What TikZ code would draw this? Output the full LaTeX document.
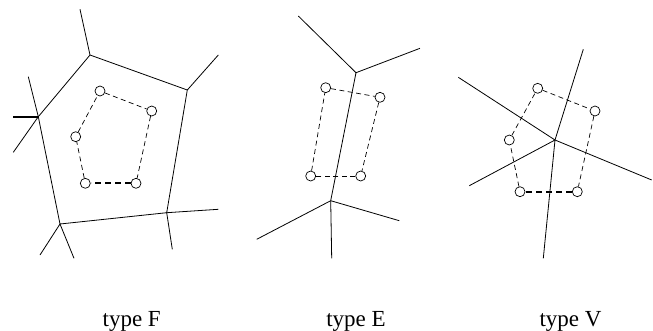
\documentclass[tikz,border=0pt]{standalone}
\usepackage{fontspec}
\setmainfont{Liberation Serif}
\begin{document}
\begin{tikzpicture}[x=1pt,y=-1pt,
  edge/.style={line width=0.8pt},
  thickedge/.style={line width=1.8pt},
  dual/.style={line width=0.7pt,dash pattern=on 5pt off 3.5pt},
  dualthick/.style={line width=1.9pt,dash pattern=on 6pt off 4pt},
  site/.style={circle,draw,line width=0.7pt,fill=white,inner sep=0pt,minimum size=10pt},
  lab/.style={font=\fontsize{23}{26}\selectfont,inner sep=0pt,anchor=base}]
\useasboundingbox (0,0) rectangle (653,330);
% ---------- type F ----------
\coordinate (f1) at (90,55);
\coordinate (f2) at (187.3,90);
\coordinate (f3) at (166.7,212.7);
\coordinate (f4) at (60,224);
\coordinate (f5) at (38.3,116.7);
\coordinate (f1o) at (80,9.3);
\coordinate (f2o) at (218.3,55);
\coordinate (f3a) at (218.3,209.3);
\coordinate (f3b) at (172.3,249.3);
\coordinate (f4a) at (40,255);
\coordinate (f4b) at (74,258.3);
\coordinate (f5a) at (28.3,76.7);
\coordinate (f5b) at (13.3,152.3);
\coordinate (f5c) at (13.3,116.7);
\draw[edge] (f1) -- (f2) -- (f3) -- (f4) -- (f5) -- (f1);
\draw[edge] (f1) -- (f1o);
\draw[edge] (f2) -- (f2o);
\draw[edge] (f3) -- (f3a);
\draw[edge] (f3) -- (f3b);
\draw[edge] (f4) -- (f4a);
\draw[edge] (f4) -- (f4b);
\draw[edge] (f5) -- (f5a);
\draw[edge] (f5) -- (f5b);
\draw[thickedge] (f5) -- (f5c);
\node[site] (a1) at (100,91) {};
\node[site] (a2) at (151.7,111) {};
\node[site] (a3) at (136,183.3) {};
\node[site] (a4) at (85.3,183.3) {};
\node[site] (a5) at (75.7,136.7) {};
\draw[dual] (a1) -- (a2);
\draw[dual] (a2) -- (a3);
\draw[dualthick] (a3) -- (a4);
\draw[dual] (a4) -- (a5);
\draw[dual] (a5) -- (a1);
% ---------- type E ----------
\coordinate (e1) at (356,72.7);
\coordinate (e2) at (330.7,200.7);
\coordinate (e1a) at (298.3,16);
\coordinate (e1b) at (420,48.3);
\coordinate (e2a) at (256.7,239.3);
\coordinate (e2b) at (399.3,220.7);
\coordinate (e2c) at (331.7,258.3);
\draw[edge] (e1) -- (e2);
\draw[edge] (e1) -- (e1a);
\draw[edge] (e1) -- (e1b);
\draw[edge] (e2) -- (e2a);
\draw[edge] (e2) -- (e2b);
\draw[edge] (e2) -- (e2c);
\node[site] (b1) at (325.7,87.7) {};
\node[site] (b2) at (380,97.3) {};
\node[site] (b3) at (360.7,176) {};
\node[site] (b4) at (310.7,176) {};
\draw[dual] (b1) -- (b2);
\draw[dual] (b2) -- (b3);
\draw[dual] (b3) -- (b4);
\draw[dual] (b4) -- (b1);
% ---------- type V ----------
\coordinate (v0) at (555,140);
\coordinate (va) at (583.3,49.3);
\coordinate (vb) at (458.3,77.3);
\coordinate (vc) at (651.7,180);
\coordinate (vd) at (469.3,185.7);
\coordinate (ve) at (543.3,258.3);
\draw[edge] (v0) -- (va);
\draw[edge] (v0) -- (vb);
\draw[edge] (v0) -- (vc);
\draw[edge] (v0) -- (vd);
\draw[edge] (v0) -- (ve);
\node[site] (c1) at (537.7,88.3) {};
\node[site] (c2) at (595,111) {};
\node[site] (c3) at (577.3,191.7) {};
\node[site] (c4) at (520,191.7) {};
\node[site] (c5) at (509.3,140) {};
\draw[dual] (c1) -- (c2);
\draw[dual] (c2) -- (c3);
\draw[dualthick] (c3) -- (c4);
\draw[dual] (c4) -- (c5);
\draw[dual] (c5) -- (c1);
% ---------- labels ----------
\node[lab] (lf) at (131.7,326) {type F};
\node[lab] (le) at (356,326) {type E};
\node[lab] (lv) at (570.5,326) {type V};
\end{tikzpicture}
\end{document}
